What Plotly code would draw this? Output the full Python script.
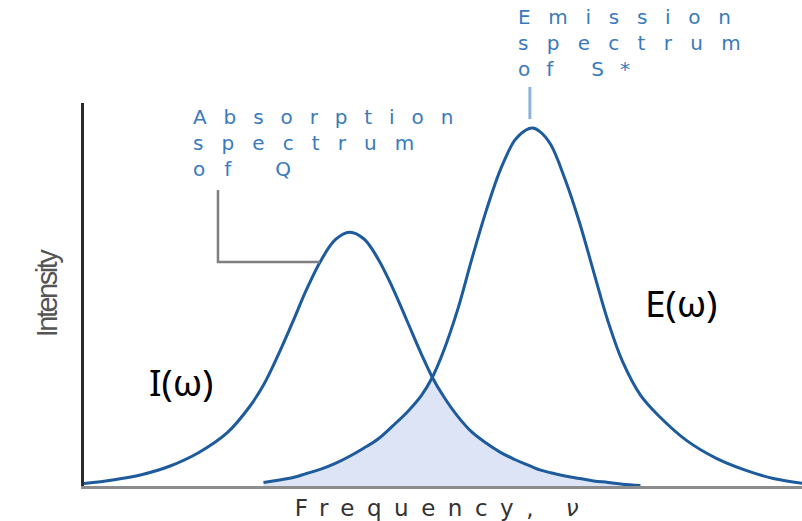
import plotly.graph_objects as go

# Shared frequency grid (arbitrary units) for both spectra
frequency = [0, 4, 8, 12, 16, 20, 23, 25, 27, 29, 31, 33, 35, 37, 39, 41, 43, 45, 47, 48.5,
             50, 52, 54, 56, 58, 60, 61.5, 62.5, 63.5, 65, 67, 69, 71, 73, 75, 77.5,
             80, 84, 88, 92, 96, 100]

# Absorption spectrum of the quencher Q, I(w)
absorption_Q = [0.67, 1.68, 3.16, 5.59, 9.36, 14.97, 22.0, 28.2, 36.4, 45.5, 54.9, 63.0, 68.8,
                70.9, 69.0, 63.3, 55.3, 46.1, 36.8, 30.4,
                25.3, 19.6, 15.1, 12.0, 9.4, 7.4, 6.1, 5.3, 4.5, 3.7, 2.8, 2.1, 1.4, 1.0, 0.5, 0.15,
                None, None, None, None, None, None]

# Emission spectrum of the excited sensitizer S*, E(w)
emission_S = [None, None, None, None, None, None, None,
              0.95, 1.6, 2.3, 3.5, 4.7, 6.3, 8.3, 10.6, 13.2, 16.8, 20.6, 25.3, 30.3,
              37.3, 49.0, 63.3, 76.8, 88.4, 96.6, 99.4, 100, 99.0, 95.4, 85.7, 73.7, 59.7,
              45.9, 34.8, 25.4,
              19.7, 12.6, 7.8, 4.5, 2.1, 0.8]

# Label lines for the two spectra
absorption_label = ["Absorption", "spectrum", "of Q"]
emission_label = ["Emission", "spectrum", "of S*"]

# Spectral overlap: region under both curves
overlap_x = [f for f, a, e in zip(frequency, absorption_Q, emission_S)
             if a is not None and e is not None]
overlap_y = [min(a, e) for a, e in zip(absorption_Q, emission_S)
             if a is not None and e is not None]

CURVE = "#1d5b9c"
LABEL = "#3a7abd"
LABEL_FONT = "DejaVu Sans, Liberation Sans, sans-serif"
LABEL_SIZE = 20


def spaced(text, ls):
    return f'<span style="letter-spacing:{ls}px">{text}</span>'


def stacked(lines, spacings):
    return "<br>".join(spaced(t, ls) for t, ls in zip(lines, spacings))


fig = go.Figure()

fig.add_trace(go.Scatter(
    x=overlap_x, y=overlap_y, mode="lines",
    line=dict(width=0, shape="spline"),
    fill="tozeroy", fillcolor="#dde4f6",
    hoverinfo="skip", showlegend=False,
))
fig.add_trace(go.Scatter(
    x=frequency, y=absorption_Q, mode="lines", name="I(ω)",
    line=dict(color=CURVE, width=3, shape="spline"), showlegend=False,
))
fig.add_trace(go.Scatter(
    x=frequency, y=emission_S, mode="lines", name="E(ω)",
    line=dict(color=CURVE, width=3, shape="spline"), showlegend=False,
))

label_font = dict(family=LABEL_FONT, size=LABEL_SIZE, color=LABEL)
annotations = [
    dict(text=stacked(absorption_label, [16.9, 18.1, 18.9]), x=0.149, y=1.0,
         xanchor="left", yanchor="top", align="left", font=label_font),
    dict(text=stacked(emission_label, [17.7, 18.3, 15.9]), x=0.602, y=1.26,
         xanchor="left", yanchor="top", align="left", font=label_font),
    dict(text="I(ω)", x=0.135, y=0.274, xanchor="center", yanchor="middle",
         font=dict(family="Noto Sans, Liberation Sans, sans-serif", size=37, color="#000000")),
    dict(text="E(ω)", x=0.831, y=0.480, xanchor="center", yanchor="middle",
         font=dict(family="Noto Sans, Liberation Sans, sans-serif", size=37, color="#000000")),
]
for a in annotations:
    a.update(xref="paper", yref="paper", showarrow=False)

shapes = [
    # leader line for the absorption label
    dict(type="path", xref="paper", yref="paper",
         path="M 0.1866 0.773 L 0.1866 0.585 L 0.3287 0.585",
         line=dict(color="#7f7f7f", width=2.5)),
    # leader line for the emission label
    dict(type="line", xref="paper", yref="paper",
         x0=0.621, x1=0.621, y0=1.042, y1=0.958,
         line=dict(color="#8db4da", width=3)),
]

fig.update_layout(
    width=802, height=521,
    margin=dict(l=84, r=0, t=103, b=35),
    paper_bgcolor="white", plot_bgcolor="white",
    annotations=annotations, shapes=shapes,
    xaxis=dict(range=[0, 100], showgrid=False, zeroline=False, showticklabels=False,
               ticks="", showline=True, linecolor="#8c8c8c", linewidth=3,
               title=dict(text=spaced("Frequency, <i>ν</i>", 12.5), standoff=12,
                          font=dict(family=LABEL_FONT, size=23, color="#333333"))),
    yaxis=dict(range=[0, 107], showgrid=False, zeroline=False, showticklabels=False,
               ticks="", showline=True, linecolor="#2b2b2b", linewidth=3,
               title=dict(text=spaced("Intensity", -2.5), standoff=15,
                          font=dict(family="Liberation Sans Narrow, Liberation Sans, sans-serif",
                                    size=29, color="#555555"))),
)

fig.write_html("out.html")
